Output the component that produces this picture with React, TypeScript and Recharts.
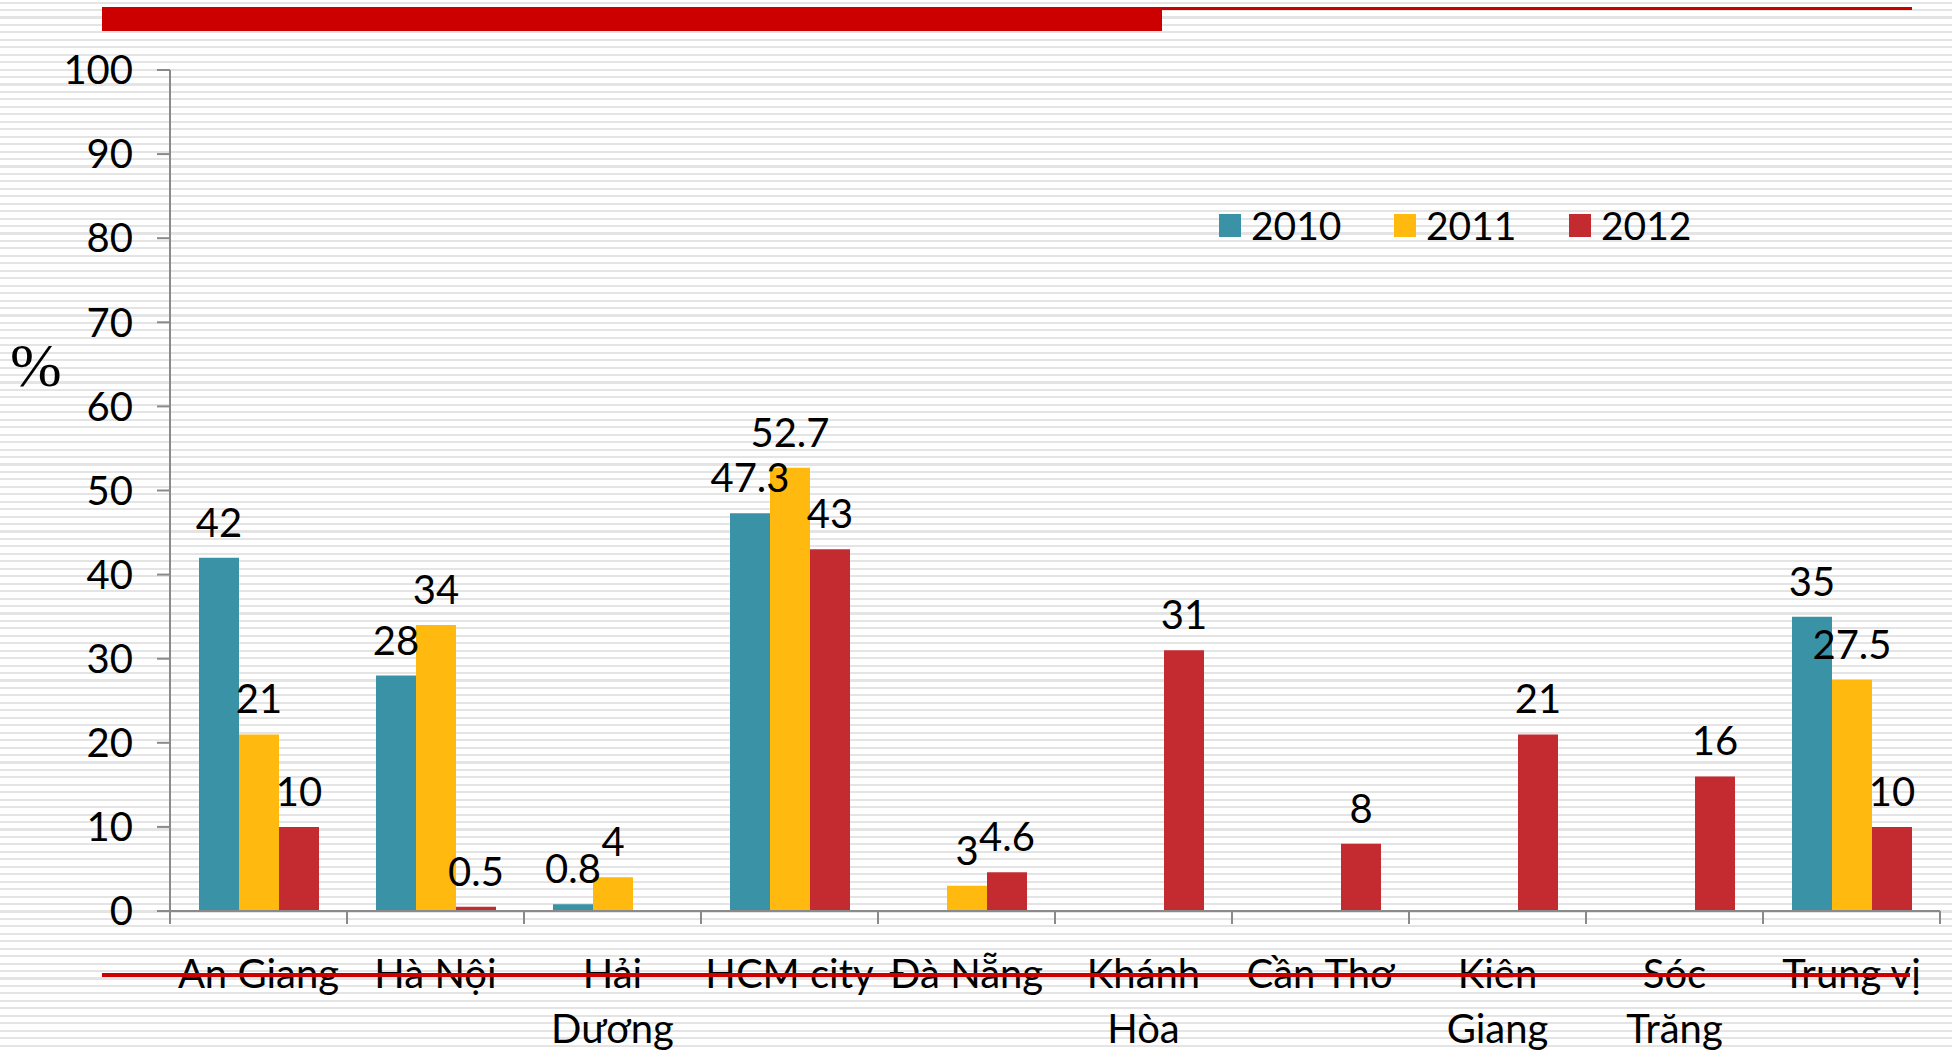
import React from "react";
import { Bar, BarChart, LabelList, Legend, XAxis, YAxis } from "recharts";

const categories = [
  "An Giang",
  "Hà Nội",
  "Hải\nDương",
  "HCM city",
  "Đà Nẵng",
  "Khánh\nHòa",
  "Cần Thơ",
  "Kiên\nGiang",
  "Sóc\nTrăng",
  "Trung vị",
];
const values2010 = [42, 28, 0.8, 47.3, null, null, null, null, null, 35];
const values2011 = [21, 34, 4, 52.7, 3, null, null, null, null, 27.5];
const values2012 = [10, 0.5, null, 43, 4.6, 31, 8, 21, 16, 10];
const yTicks = [0, 10, 20, 30, 40, 50, 60, 70, 80, 90, 100];
const seriesNames = ["2010", "2011", "2012"];
const seriesColors = ["#3A92A7", "#FFB90F", "#C42B30"];

const FONT = "Lato, 'Open Sans', sans-serif";
const AXIS_GREY = "#8a8a8a";

const rows = categories.map((name, i) => ({
  name,
  y2010: values2010[i],
  y2011: values2011[i],
  y2012: values2012[i],
}));

function ValueLabel(props: any) {
  const { x, y, width, value } = props;
  if (value === null || value === undefined) return null;
  return (
    <text
      x={x + width / 2}
      y={y - 21}
      textAnchor="middle"
      fontFamily={FONT}
      fontSize={40}
      fill="#000"
    >
      {value}
    </text>
  );
}

function CategoryTick(props: any) {
  const { x, y, payload, index } = props;
  const half = payload.offset ?? 88.5;
  const lines = String(payload.value).split("\n");
  return (
    <g>
      <line x1={x - half} y1={y} x2={x - half} y2={y + 13} stroke={AXIS_GREY} strokeWidth={2} />
      {index === categories.length - 1 && (
        <line x1={x + half} y1={y} x2={x + half} y2={y + 13} stroke={AXIS_GREY} strokeWidth={2} />
      )}
      {lines.map((line, i) => (
        <text
          key={i}
          x={x}
          y={y + 77 + i * 55}
          textAnchor="middle"
          fontFamily={FONT}
          fontSize={40}
          fill="#000"
        >
          {line}
        </text>
      ))}
    </g>
  );
}

function LegendContent() {
  return (
    <div style={{ display: "flex", fontFamily: FONT, fontSize: 39, lineHeight: "44px" }}>
      {seriesNames.map((name, i) => (
        <div key={name} style={{ width: 175, display: "flex", alignItems: "center" }}>
          <span
            style={{
              width: 22,
              height: 23,
              background: seriesColors[i],
              display: "inline-block",
              marginRight: 10,
            }}
          />
          <span>{name}</span>
        </div>
      ))}
    </div>
  );
}

export default function App() {
  return (
    <div
      style={{
        position: "fixed",
        left: 0,
        top: 0,
        width: 1952,
        height: 1052,
        overflow: "hidden",
        background:
          "repeating-linear-gradient(to bottom, #ffffff 0px, #ffffff 1.5px, #e4e4e4 1.5px, #e4e4e4 3.6px, #ffffff 3.6px, #ffffff 7.45px)",
      }}
    >
      <div
        style={{ position: "absolute", left: 102, top: 7, width: 1060, height: 24, background: "#CC0000" }}
      />
      <div
        style={{ position: "absolute", left: 1160, top: 7, width: 752, height: 3, background: "#CC0000" }}
      />
      <div
        style={{
          position: "absolute",
          left: 10,
          top: 330,
          fontFamily: "'Liberation Serif', 'DejaVu Serif', serif",
          fontSize: 62,
          lineHeight: "70px",
        }}
      >
        %
      </div>
      <BarChart
        width={1952}
        height={1052}
        data={rows}
        margin={{ top: 70, right: 12, left: 0, bottom: 0 }}
        barGap={0}
        barSize={40}
      >
        <XAxis
          dataKey="name"
          height={141}
          interval={0}
          tickSize={0}
          tickMargin={0}
          tickLine={false}
          axisLine={{ stroke: AXIS_GREY, strokeWidth: 2 }}
          tick={<CategoryTick />}
        />
        <YAxis
          width={170}
          domain={[0, 100]}
          ticks={yTicks}
          interval={0}
          tickSize={13}
          tickMargin={24}
          tickLine={{ stroke: AXIS_GREY, strokeWidth: 2 }}
          axisLine={{ stroke: AXIS_GREY, strokeWidth: 2 }}
          tick={{ fontFamily: FONT, fontSize: 40, fill: "#000" }}
        />
        <Legend
          layout="horizontal"
          verticalAlign="middle"
          align="center"
          wrapperStyle={{ top: 203, left: 1219, width: 600 }}
          content={<LegendContent />}
        />
        <Bar dataKey="y2010" name={seriesNames[0]} fill={seriesColors[0]} isAnimationActive={false}>
          <LabelList dataKey="y2010" content={<ValueLabel />} />
        </Bar>
        <Bar dataKey="y2011" name={seriesNames[1]} fill={seriesColors[1]} isAnimationActive={false}>
          <LabelList dataKey="y2011" content={<ValueLabel />} />
        </Bar>
        <Bar dataKey="y2012" name={seriesNames[2]} fill={seriesColors[2]} isAnimationActive={false}>
          <LabelList dataKey="y2012" content={<ValueLabel />} />
        </Bar>
      </BarChart>
      <div
        style={{ position: "absolute", left: 102, top: 973, width: 1808, height: 4, background: "#CC0000" }}
      />
    </div>
  );
}
